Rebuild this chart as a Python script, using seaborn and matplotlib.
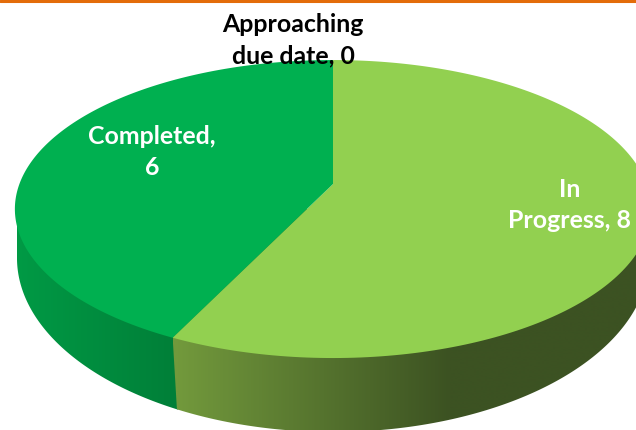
import numpy as np
import matplotlib
matplotlib.use("Agg")
import matplotlib.pyplot as plt
from matplotlib.patches import Polygon
import seaborn as sns

# chart values, clockwise from 12 o'clock
statuses = ["In\nProgress", "Completed", "Approaching\ndue date"]
counts = [8, 6, 0]
separators = [", ", ",\n", ", "]
face_colors = ["#92D050", "#00B050", "#C00000"]
label_colors = ["white", "white", "black"]

# where the labels sit in the picture (pixels)
label_x = [570, 152, 293]
label_y = [205, 152, 40]

# disc geometry in pixels
CX, APEX_Y = 333, 184
TILT = 0.168
SCALE_X, SCALE_Y = 313.6, 144.8
BOTTOM_CX, BOTTOM_CY, BOTTOM_RX, BOTTOM_RY = 333, 258, 316, 174
SKEW = 4


# top face of the pie: a circle seen in perspective
def rim_point(angle):
    w = 1 + TILT * np.cos(angle)
    return CX + SCALE_X * np.sin(angle) / w, APEX_Y - SCALE_Y * np.cos(angle) / w


def wedge_points(start, end):
    angles = np.linspace(start, end, 200)
    xs, ys = rim_point(angles)
    return np.column_stack([np.r_[CX, xs], np.r_[APEX_Y, ys]])


# part of the lower outline between two x limits, closed up behind the top face
def side_points(x_min, x_max, seam=None):
    t = np.linspace(0, np.pi, 600)
    xs = BOTTOM_CX + BOTTOM_RX * np.cos(t)
    ys = BOTTOM_CY + BOTTOM_RY * np.sin(t)
    keep = (xs >= x_min) & (xs <= x_max)
    pts = np.column_stack([xs[keep], ys[keep]])
    top_y = APEX_Y + 25
    if seam is None:
        return np.vstack([[pts[0, 0], top_y], pts, [pts[-1, 0], top_y]])
    return np.vstack([[pts[0, 0], top_y], pts, seam, [seam[0], top_y]])


def draw_side(ax, x_min, x_max, grad_from, grad_to, start_color, end_color, seam=None):
    cmap = sns.blend_palette([start_color, end_color], n_colors=256, as_cmap=True)
    left = x_min if seam is None else min(x_min, seam[0])
    xs = np.arange(left, x_max + 1)
    shade = np.clip((xs - grad_from) / (grad_to - grad_from), 0, 1)
    img = ax.imshow(shade[np.newaxis, :], cmap=cmap, vmin=0, vmax=1, aspect="auto",
                    extent=[left, x_max, 440, 150], interpolation="bilinear", zorder=1)
    clip = Polygon(side_points(x_min, x_max, seam), closed=True, transform=ax.transData)
    img.set_clip_path(clip)


sns.set_theme(style="white")
plt.rcParams["font.family"] = ["Lato", "DejaVu Sans"]

fig = plt.figure(figsize=(6.36, 4.30), dpi=100)
ax = fig.add_axes([0, 0, 1, 1])

total = sum(counts)
edges = 2 * np.pi * np.cumsum([0] + counts) / total

# front wall, split where the first slice ends; the seam leans slightly
seam_x, seam_y = rim_point(edges[1])
split_x = float(seam_x) + SKEW
draw_side(ax, BOTTOM_CX - BOTTOM_RX, split_x + 2, 15, split_x, "#009A45", "#007F38")
draw_side(ax, split_x, BOTTOM_CX + BOTTOM_RX, split_x, 450, "#72993C", "#3C5222",
          seam=[float(seam_x), float(seam_y)])

for i, count in enumerate(counts):
    if count > 0:
        ax.add_patch(Polygon(wedge_points(edges[i], edges[i + 1]), closed=True,
                             facecolor=face_colors[i], edgecolor="none", zorder=2))

ax.axhline(1, color="#E36C0A", lw=2.2, zorder=5)

for i, status in enumerate(statuses):
    ax.text(label_x[i], label_y[i], f"{status}{separators[i]}{counts[i]}",
            color=label_colors[i], fontsize=17.9, fontweight="bold", ha="center",
            va="center", linespacing=1.45, zorder=4)

ax.set_xlim(0, 636)
ax.set_ylim(430, 0)
ax.axis("off")

fig.savefig("out.png", dpi=100, facecolor="white")
